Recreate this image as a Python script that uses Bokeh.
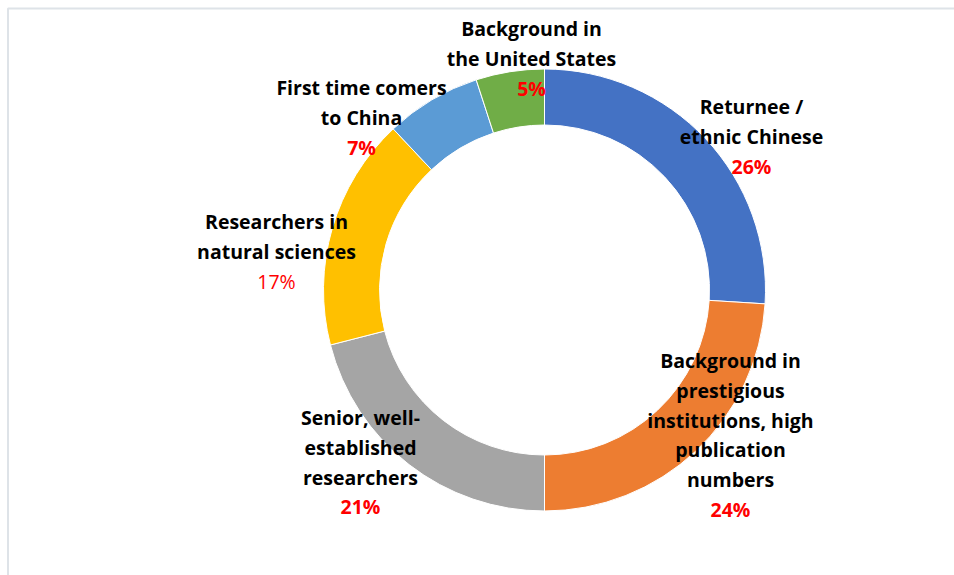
import math
from bokeh.plotting import figure
from bokeh.models import Range1d, ColumnDataSource
from bokeh.core.properties import value
from bokeh.embed import file_html
from bokeh.resources import INLINE

# ---- data ----
categories = [
    "Returnee /\nethnic Chinese",
    "Background in\nprestigious\ninstitutions, high\npublication\nnumbers",
    "Senior, well-\nestablished\nresearchers",
    "Researchers in\nnatural sciences",
    "First time comers\nto China",
    "Background in\nthe United States",
]
shares = [26, 24, 21, 17, 7, 5]
pct_labels = ["26%", "24%", "21%", "17%", "7%", "5%"]
pct_bold = [True, True, True, False, True, True]

# ---- style / layout ----
colors = ["#4472C4", "#ED7D31", "#A5A5A5", "#FFC000", "#5B9BD5", "#70AD47"]
W, H = 954, 575
CX, CY = 544, 575 - 289.5
R_OUT, R_IN = 221, 165
# label anchors (pixel coords from top-left): centre x, first-line centre y
label_anchor = [(751, 106), (730, 360), (360, 417), (276, 221), (361, 87), (531, 28)]
LINE_STEP = 29.8
FONT = "Open Sans"
FSIZE = "19.5px"

p = figure(width=W, height=H, x_range=Range1d(0, W), y_range=Range1d(0, H),
           output_backend="svg", toolbar_location=None, min_border=0)
p.axis.visible = False
p.grid.visible = False
p.outline_line_color = None
p.background_fill_color = "white"
p.border_fill_color = "white"

# frame
p.line(x=[7.5, 7.5, W + 5], y=[-5, H - 8, H - 8], line_color="#DEE3E8", line_width=2)

# wedges
total = float(sum(shares))
starts, ends = [], []
cum = 0.0
for v in shares:
    starts.append(math.pi / 2 - 2 * math.pi * cum / total)
    cum += v
    ends.append(math.pi / 2 - 2 * math.pi * cum / total)

src = ColumnDataSource(dict(x=[CX] * len(shares), y=[CY] * len(shares),
                            start=starts, end=ends, color=colors))
p.annular_wedge(x="x", y="y", inner_radius=R_IN, outer_radius=R_OUT,
                start_angle="start", end_angle="end", direction="clock",
                fill_color="color", line_color="white", line_width=1, source=src)

# labels
lx, ly, lt = [], [], []
px, py, pt, pstyle = [], [], [], []
for cat, pct, bold, (ax, ay) in zip(categories, pct_labels, pct_bold, label_anchor):
    lines = cat.split("\n")
    for i, ln in enumerate(lines):
        lx.append(ax)
        ly.append(H - (ay + i * LINE_STEP))
        lt.append(ln)
    px.append(ax)
    py.append(H - (ay + len(lines) * LINE_STEP))
    pt.append(pct)
    pstyle.append("bold" if bold else "normal")

p.text(x=lx, y=ly, text=lt, text_align="center", text_baseline="middle",
       text_font=value(FONT), text_font_size=FSIZE, text_font_style="bold",
       text_color="black")
p.text(x="x", y="y", text="t", source=ColumnDataSource(dict(x=px, y=py, t=pt, s=pstyle)),
       text_align="center", text_baseline="middle", text_font=value(FONT),
       text_font_size=FSIZE, text_font_style="s", text_color="#FF0000")

open("out.html", "w").write(file_html(p, INLINE))
